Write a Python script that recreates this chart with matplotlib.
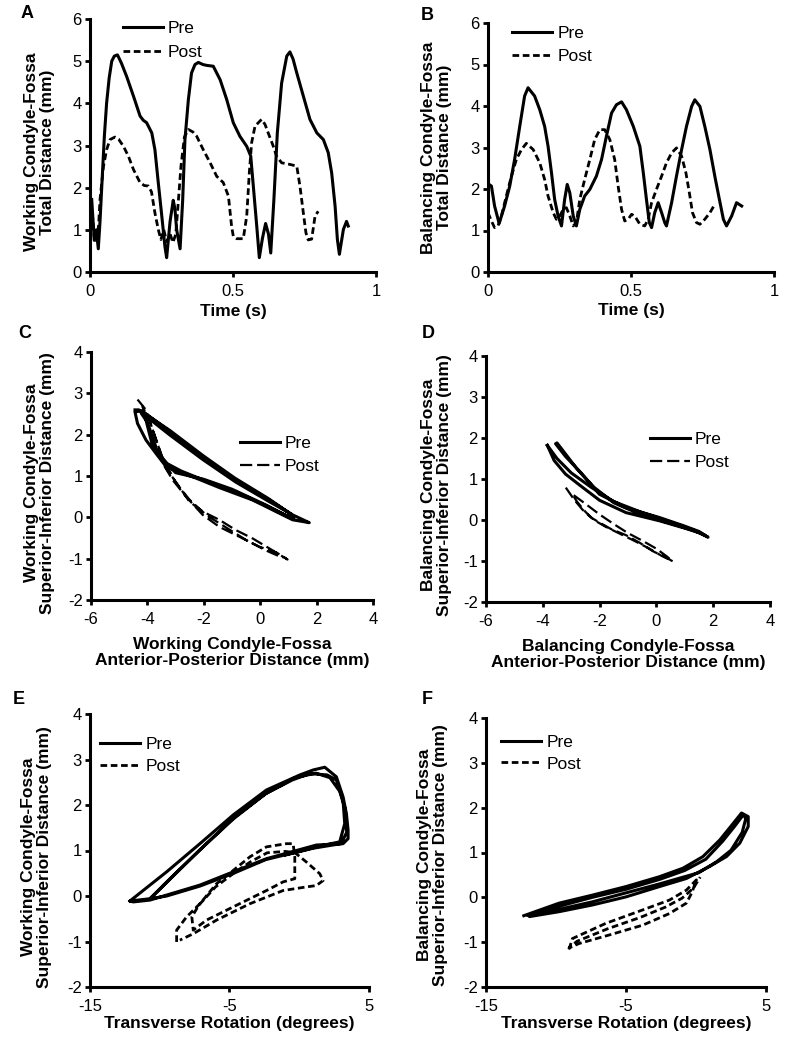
import matplotlib
matplotlib.use("Agg")
import matplotlib.pyplot as plt

plt.rcParams['font.family'] = ['Liberation Sans', 'DejaVu Sans']
plt.rcParams['axes.unicode_minus'] = False

# ---- A: working condyle total distance vs time ----
a_pre_t = [0.006, 0.015, 0.022, 0.029, 0.035, 0.041, 0.050, 0.058, 0.067, 0.076, 0.085, 0.096,
           0.110, 0.128, 0.152, 0.175, 0.186, 0.198, 0.216, 0.227, 0.239, 0.251, 0.262, 0.268,
           0.280, 0.291, 0.297, 0.303, 0.315, 0.324, 0.332, 0.344, 0.355, 0.367, 0.379, 0.395,
           0.408, 0.431, 0.455, 0.478, 0.501, 0.524, 0.548, 0.562, 0.571, 0.583, 0.592, 0.603,
           0.614, 0.624, 0.632, 0.643, 0.655, 0.670, 0.688, 0.699, 0.710, 0.723, 0.746, 0.769,
           0.793, 0.816, 0.833, 0.845, 0.857, 0.865, 0.872, 0.886, 0.897, 0.903]
a_pre_d = [1.72, 0.75, 1.0, 0.55, 1.2, 2.0, 3.2, 4.0, 4.6, 5.0, 5.12, 5.15,
           4.95, 4.64, 4.17, 3.7, 3.6, 3.54, 3.3, 2.9, 2.1, 1.33, 0.6, 0.34,
           1.2, 1.7, 1.5, 1.0, 0.55, 1.7, 3.14, 4.09, 4.72, 4.92, 4.97, 4.92,
           4.9, 4.88, 4.56, 4.09, 3.54, 3.22, 2.98, 2.75, 2.04, 1.09, 0.34, 0.8,
           1.15, 0.9, 0.45, 1.72, 3.3, 4.48, 5.12, 5.22, 5.05, 4.72, 4.17, 3.62,
           3.3, 3.14, 2.83, 2.35, 1.56, 0.77, 0.42, 1.01, 1.2, 1.09]
a_post_t = [0.008, 0.015, 0.022, 0.030, 0.035, 0.047, 0.058, 0.070, 0.087, 0.100, 0.117, 0.134,
            0.152, 0.175, 0.190, 0.204, 0.215, 0.227, 0.239, 0.248, 0.258, 0.268, 0.280, 0.290,
            0.300, 0.308, 0.318, 0.330, 0.344, 0.360, 0.373, 0.396, 0.420, 0.443, 0.466, 0.484,
            0.495, 0.501, 0.513, 0.536, 0.548, 0.557, 0.565, 0.577, 0.600, 0.612, 0.623, 0.641,
            0.652, 0.670, 0.700, 0.723, 0.734, 0.746, 0.755, 0.763, 0.775, 0.787, 0.798]
a_post_d = [1.4, 0.8, 0.7, 1.1, 1.72, 2.5, 2.9, 3.14, 3.2, 3.15, 2.98, 2.75,
            2.43, 2.12, 2.05, 2.04, 1.9, 1.4, 1.0, 0.77, 1.0, 0.72, 0.9, 0.7,
            0.9, 1.6, 2.5, 3.2, 3.38, 3.32, 3.22, 2.9, 2.59, 2.27, 2.12, 1.8,
            1.09, 0.85, 0.79, 0.79, 1.33, 2.35, 3.06, 3.46, 3.62, 3.5, 3.3, 2.98,
            2.75, 2.59, 2.55, 2.51, 2.04, 1.4, 0.93, 0.76, 0.78, 1.33, 1.44]

# ---- B: balancing condyle total distance vs time ----
b_pre_t = [0.004, 0.012, 0.023, 0.039, 0.058, 0.076, 0.093, 0.111, 0.128, 0.140, 0.163, 0.181,
           0.198, 0.210, 0.222, 0.233, 0.245, 0.257, 0.268, 0.277, 0.286, 0.298, 0.309, 0.321,
           0.338, 0.356, 0.379, 0.397, 0.414, 0.432, 0.449, 0.467, 0.484, 0.508, 0.531, 0.543,
           0.554, 0.564, 0.572, 0.583, 0.595, 0.607, 0.618, 0.624, 0.642, 0.659, 0.677, 0.694,
           0.712, 0.723, 0.741, 0.758, 0.776, 0.793, 0.809, 0.823, 0.834, 0.852, 0.869, 0.887]
b_pre_d = [2.11, 2.07, 1.59, 1.17, 1.59, 2.07, 2.71, 3.51, 4.24, 4.44, 4.24, 3.91,
           3.51, 3.03, 2.39, 1.75, 1.35, 1.11, 1.75, 2.11, 1.91, 1.35, 1.11, 1.51,
           1.83, 1.99, 2.31, 2.71, 3.27, 3.83, 4.03, 4.10, 3.91, 3.51, 3.03, 2.39,
           1.75, 1.19, 1.07, 1.43, 1.67, 1.43, 1.19, 1.11, 1.67, 2.31, 2.95, 3.51,
           3.99, 4.15, 3.99, 3.51, 2.95, 2.31, 1.75, 1.27, 1.11, 1.35, 1.67, 1.59]
b_post_t = [0.0, 0.012, 0.023, 0.035, 0.047, 0.064, 0.082, 0.099, 0.117, 0.134, 0.158, 0.181,
            0.198, 0.210, 0.228, 0.239, 0.251, 0.263, 0.274, 0.286, 0.298, 0.309, 0.321, 0.338,
            0.356, 0.373, 0.391, 0.408, 0.426, 0.443, 0.455, 0.467, 0.478, 0.490, 0.502, 0.513,
            0.531, 0.548, 0.560, 0.572, 0.589, 0.607, 0.624, 0.642, 0.659, 0.677, 0.692, 0.704,
            0.715, 0.729, 0.741, 0.758, 0.776, 0.793]
b_post_d = [1.43, 1.23, 1.07, 1.11, 1.35, 1.83, 2.31, 2.71, 2.95, 3.10, 2.95, 2.63,
            2.23, 1.83, 1.43, 1.27, 1.35, 1.51, 1.55, 1.35, 1.11, 1.19, 1.75, 2.23,
            2.71, 3.19, 3.43, 3.43, 3.19, 2.71, 2.07, 1.51, 1.23, 1.27, 1.39, 1.35,
            1.15, 1.11, 1.27, 1.67, 1.99, 2.31, 2.63, 2.87, 2.99, 2.79, 2.39, 1.91,
            1.43, 1.19, 1.15, 1.27, 1.43, 1.63]

# ---- C: working condyle SI vs AP ----
c_pre_ap = [-4.44, -4.3, -4.0, -3.22, -2.04, -0.86, 0.32, 1.15, 1.74, 1.5, 1.15, -0.27,
            -1.45, -2.28, -2.87, -3.34, -3.70, -4.05, -4.35, -4.44, -4.2, -3.22, -2.04, -0.86,
            0.32, 1.1, 1.2, 0.3, -0.8, -2.0, -2.8, -3.3, -3.81, -3.99, -4.11, -3.2,
            -2.0, -0.9, 0.3, 1.0, 1.05, 0.2, -1.0, -2.0, -3.0, -3.6, -4.0, -4.2]
c_pre_si = [2.60, 2.6, 2.42, 2.0, 1.40, 0.85, 0.38, 0.06, -0.13, -0.1, -0.06, 0.42,
            0.72, 0.95, 1.10, 1.23, 1.55, 1.87, 2.27, 2.55, 2.58, 2.08, 1.45, 0.9,
            0.42, 0.08, -0.05, 0.25, 0.6, 0.9, 1.12, 1.3, 1.71, 2.19, 2.52, 2.1,
            1.48, 0.95, 0.45, 0.12, 0.0, 0.3, 0.68, 0.92, 1.08, 1.5, 2.3, 2.5]
c_post_ap = [-4.35, -4.05, -3.81, -3.34, -2.87, -2.51, -2.04, -1.45, -0.86, -0.27, 0.32, 0.97,
             0.6, -0.03, -0.74, -1.45, -2.04, -2.63, -3.10, -3.46, -3.93, -4.17, -3.9, -3.5,
             -3.0, -2.5, -1.9, -1.2, -0.5, 0.2, 0.8]
c_post_si = [2.85, 2.60, 2.11, 1.19, 0.74, 0.38, 0.14, -0.06, -0.31, -0.51, -0.75, -1.02,
             -0.86, -0.71, -0.47, -0.23, 0.06, 0.5, 0.90, 1.31, 2.11, 2.68, 2.3, 1.5,
             0.85, 0.42, 0.05, -0.25, -0.55, -0.8, -0.98]

# ---- D: balancing condyle SI vs AP ----
d_pre_ap = [-3.84, -3.6, -3.2, -2.7, -2.0, -1.07, 0.11, 1.0, 1.5, 1.82, 1.5, 1.0,
            0.11, -1.07, -2.01, -2.72, -3.2, -3.55, -3.5, -3.3, -2.8, -2.2, -1.5, -0.5,
            0.5, 1.29, 1.7, 1.4, 0.5, -0.5, -1.5, -2.3, -3.0, -3.5, -3.84]
d_pre_si = [1.82, 1.45, 1.12, 0.85, 0.48, 0.18, -0.02, -0.2, -0.31, -0.42, -0.28, -0.15,
            0.06, 0.30, 0.63, 1.20, 1.55, 1.86, 1.88, 1.7, 1.25, 0.8, 0.42, 0.12,
            -0.08, -0.25, -0.37, -0.27, -0.05, 0.18, 0.45, 0.8, 1.15, 1.5, 1.82]
d_post_ap = [-3.19, -2.9, -2.6, -2.3, -2.01, -1.6, -1.07, -0.6, -0.1, 0.3, 0.58, 0.35,
             0.0, -0.48, -1.0, -1.5, -2.01, -2.49, -2.96, -2.8, -2.5, -2.2, -1.8, -1.3,
             -0.8, -0.3, 0.2, 0.5]
d_post_si = [0.79, 0.5, 0.25, 0.06, -0.06, -0.22, -0.37, -0.55, -0.77, -0.9, -1.01, -0.88,
             -0.7, -0.51, -0.32, -0.1, 0.14, 0.39, 0.63, 0.45, 0.2, 0.0, -0.16, -0.33,
             -0.5, -0.68, -0.88, -0.98]

# ---- E: working condyle SI vs transverse rotation ----
e_pre_rot = [-12.14, -9.51, -7.12, -4.74, -2.35, 0.04, 1.0, 1.83, 2.66, 3.14, 3.38, 3.50,
             3.50, 3.14, 1.23, 0.04, -2.35, -4.74, -7.12, -9.51, -10.70, -11.9, -12.14, -10.7,
             -9.0, -7.0, -4.7, -2.4, -0.5, 0.75, 2.0, 2.66, 3.14, 3.26, 2.9, 1.5,
             0.0, -2.4, -4.7, -7.1, -9.5, -10.7, -9.2, -7.1, -4.7, -2.4, -0.3, 1.2,
             2.2, 2.9, 3.3, 3.4, 3.0, 1.0, -1.0]
e_pre_si = [-0.11, 0.53, 1.15, 1.78, 2.33, 2.66, 2.77, 2.83, 2.62, 2.18, 1.81, 1.45,
            1.26, 1.15, 1.12, 1.02, 0.82, 0.53, 0.24, 0.02, -0.09, -0.13, -0.11, -0.06,
            0.45, 1.05, 1.72, 2.25, 2.55, 2.69, 2.66, 2.55, 2.1, 1.59, 1.19, 1.1,
            0.98, 0.8, 0.5, 0.22, 0.0, -0.06, 0.4, 1.02, 1.7, 2.25, 2.6, 2.7,
            2.6, 2.3, 1.9, 1.4, 1.15, 1.05, 0.9]
e_post_rot = [-8.79, -8.79, -8.08, -7.12, -5.93, -4.74, -3.54, -2.35, -0.92, -0.44, -0.32, -0.32,
              -1.16, -2.35, -4.74, -6.65, -7.6, -7.7, -7.2, -6.0, -4.7, -3.5, -2.3, -1.0,
              -0.3, 0.5, 1.47, 1.71, 1.23, 0.52, -1.16, -3.54, -5.93, -7.6, -8.56]
e_post_si = [-1.01, -0.75, -0.46, -0.17, 0.27, 0.56, 0.86, 1.08, 1.15, 1.15, 0.86, 0.38,
             0.31, 0.12, -0.24, -0.53, -0.75, -0.46, -0.2, 0.2, 0.5, 0.75, 0.95, 0.98,
             0.95, 0.75, 0.49, 0.34, 0.23, 0.2, 0.12, -0.17, -0.53, -0.83, -0.97]

# ---- F: balancing condyle SI vs transverse rotation ----
f_pre_rot = [-12.3, -9.78, -7.39, -5.0, -2.61, -0.93, 0.5, 1.7, 2.66, 3.25, 3.73, 3.73,
             3.13, 2.18, 0.98, -0.69, -2.61, -5.0, -7.39, -9.78, -11.9, -9.8, -7.4, -5.0,
             -2.6, -0.8, 0.7, 1.9, 2.8, 3.4, 3.55, 3.3, 2.5, 1.5, 0.2, -2.6,
             -5.0, -7.4, -9.8, -12.0]
f_pre_si = [-0.41, -0.13, 0.05, 0.24, 0.46, 0.65, 0.91, 1.28, 1.65, 1.88, 1.8, 1.58,
            1.21, 0.91, 0.69, 0.42, 0.24, 0.01, -0.17, -0.32, -0.43, -0.2, 0.0, 0.18,
            0.4, 0.6, 0.85, 1.25, 1.6, 1.85, 1.75, 1.45, 1.05, 0.8, 0.55, 0.3,
            0.1, -0.1, -0.27, -0.4]
f_post_rot = [-9.07, -8.83, -6.44, -3.8, -1.89, -0.69, 0.03, -0.3, -0.69, -1.89, -3.8, -6.2,
              -8.35, -9.07, -8.5, -6.3, -4.0, -2.2, -1.0, -0.2, 0.3]
f_post_si = [-1.16, -0.92, -0.58, -0.28, -0.06, 0.16, 0.39, 0.1, -0.13, -0.36, -0.62, -0.84,
             -1.03, -1.13, -0.98, -0.7, -0.45, -0.22, -0.02, 0.2, 0.45]

W, H = 786, 1048
fig = plt.figure(figsize=(W / 100, H / 100), dpi=100)


def add_ax(x0, y0, x1, y1):
    # pixel box (left, top, right, bottom) -> figure fraction
    return fig.add_axes([x0 / W, 1 - y1 / H, (x1 - x0) / W, (y1 - y0) / H])


pre_kw = dict(color='black', lw=2.2, solid_joinstyle='round', label='Pre')
short_dash = dict(color='black', lw=2.0, linestyle=(0, (2.4, 1.3)), label='Post')
long_dash = dict(color='black', lw=1.6, linestyle=(0, (5.5, 2.2)), label='Post')


def finish(ax, xlim, ylim, xticks, yticks, xticklabels, xlabel, ylabel,
           xlab_y, ylab_x, ylab_y, leg_xy, leg_space, letter, letter_xy):
    ax.set_xlim(xlim)
    ax.set_ylim(ylim)
    ax.set_xticks(xticks)
    ax.set_xticklabels(xticklabels)
    ax.set_yticks(yticks)
    ax.set_yticklabels([str(v) for v in yticks])
    for s in ['top', 'right']:
        ax.spines[s].set_visible(False)
    for s in ['left', 'bottom']:
        ax.spines[s].set_linewidth(2.2)
    ax.tick_params(direction='out', length=3.5, width=2, labelsize=12)
    ax.tick_params(axis='x', pad=5)
    ax.tick_params(axis='y', pad=2.5)
    ax.set_xlabel(xlabel, fontsize=12.5, fontweight='bold', linespacing=1.1)
    ax.set_ylabel(ylabel, fontsize=12.5, fontweight='bold', linespacing=1.1)
    ax.xaxis.set_label_coords(0.5, xlab_y)
    # y label anchor is the right edge of the rotated text block
    ax.yaxis.set_label_coords(ylab_x, ylab_y)
    ax.legend(loc='upper left', bbox_to_anchor=leg_xy, frameon=False, fontsize=12.5,
              borderpad=0, borderaxespad=0, handlelength=2.3, handletextpad=0.3,
              labelspacing=leg_space)
    fig.text(letter_xy[0] / W, 1 - letter_xy[1] / H, letter, fontsize=13,
             fontweight='bold', ha='center', va='center')


ax = add_ax(90, 19, 376, 272)
ax.plot(a_pre_t, a_pre_d, **pre_kw)
ax.plot(a_post_t, a_post_d, **short_dash)
finish(ax, (0, 1), (0, 6), [0, 0.5, 1], range(0, 7), ['0', '0.5', '1'], 'Time (s)',
       'Working Condyle-Fossa\nTotal Distance (mm)', -0.125, -0.122, 0.474,
       (0.115, 0.994), 0.53, 'A', (27, 14))

ax = add_ax(488, 23, 774, 272)
ax.plot(b_pre_t, b_pre_d, **pre_kw)
ax.plot(b_post_t, b_post_d, **short_dash)
finish(ax, (0, 1), (0, 6), [0, 0.5, 1], range(0, 7), ['0', '0.5', '1'], 'Time (s)',
       'Balancing Condyle-Fossa\nTotal Distance (mm)', -0.125, -0.126, 0.5,
       (0.084, 0.988), 0.45, 'B', (427, 15))

ax = add_ax(91, 352, 373, 600)
ax.plot(c_pre_ap, c_pre_si, **pre_kw)
ax.plot(c_post_ap, c_post_si, **long_dash)
finish(ax, (-6, 4), (-2, 4), range(-6, 5, 2), range(-2, 5), [str(v) for v in range(-6, 5, 2)],
       'Working Condyle-Fossa\nAnterior-Posterior Distance (mm)',
       'Working Condyle-Fossa\nSuperior-Inferior Distance (mm)', -0.15, -0.128, 0.472,
       (0.528, 0.661), 0.45, 'C', (25, 333))

ax = add_ax(486, 356, 770, 602)
ax.plot(d_pre_ap, d_pre_si, **pre_kw)
ax.plot(d_post_ap, d_post_si, **long_dash)
finish(ax, (-6, 4), (-2, 4), range(-6, 5, 2), range(-2, 5), [str(v) for v in range(-6, 5, 2)],
       'Balancing Condyle-Fossa\nAnterior-Posterior Distance (mm)',
       'Balancing Condyle-Fossa\nSuperior-Inferior Distance (mm)', -0.15, -0.12, 0.476,
       (0.577, 0.691), 0.45, 'D', (428, 334))

ax = add_ax(90, 714, 369, 987)
ax.plot(e_pre_rot, e_pre_si, **pre_kw)
ax.plot(e_post_rot, e_post_si, **short_dash)
finish(ax, (-15, 5), (-2, 4), [-15, -5, 5], range(-2, 5), ['-15', '-5', '5'],
       'Transverse Rotation (degrees)',
       'Working Condyle-Fossa\nSuperior-Inferior Distance (mm)', -0.105, -0.136, 0.476,
       (0.036, 0.915), 0.36, 'E', (19, 700))

ax = add_ax(486, 718, 766, 987)
ax.plot(f_pre_rot, f_pre_si, **pre_kw)
ax.plot(f_post_rot, f_post_si, **short_dash)
finish(ax, (-15, 5), (-2, 4), [-15, -5, 5], range(-2, 5), ['-15', '-5', '5'],
       'Transverse Rotation (degrees)',
       'Balancing Condyle-Fossa\nSuperior-Inferior Distance (mm)', -0.106, -0.136, 0.49,
       (0.054, 0.937), 0.36, 'F', (427, 700))

fig.savefig('out.png', dpi=100)
